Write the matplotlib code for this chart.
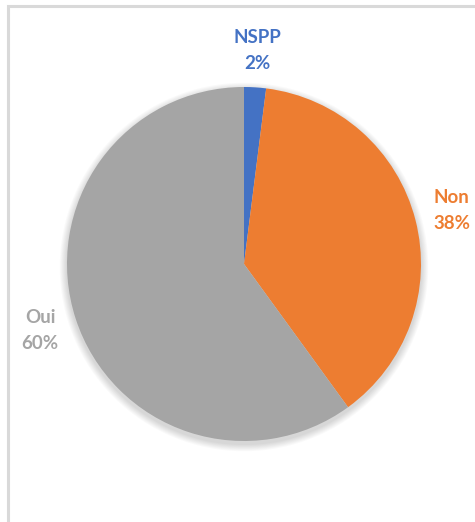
import matplotlib
matplotlib.use("Agg")
import matplotlib.pyplot as plt
from matplotlib.patches import Rectangle, Circle

categories = ["NSPP", "Non", "Oui"]
values = [2, 38, 60]
colors = ["#4472C4", "#ED7D31", "#A5A5A5"]

W, H = 475, 522
fig = plt.figure(figsize=(W / 100, H / 100), dpi=100)
ax = fig.add_axes([0, 0, 1, 1])

# chart border (light gray), right and bottom edges outside the image
ax.add_patch(Rectangle((8, -20), W + 20, H - 6 + 20, fill=False,
                       edgecolor="#D9D9D9", linewidth=2.2, zorder=0))

cx, cy, r = 244, H - 264, 177

# soft shadow
for k in range(8):
    ax.add_patch(Circle((cx, cy - 3), r + 1 + k * 0.9, color="black",
                        alpha=0.018, linewidth=0, zorder=1))

labels = [f"{c}\n{v}%" for c, v in zip(categories, values)]
wedges, texts = ax.pie(values, colors=colors, startangle=90, counterclock=False,
                       center=(cx, cy), radius=r, labels=labels,
                       labeldistance=1.21, frame=True,
                       wedgeprops=dict(linewidth=0, zorder=2),
                       textprops=dict(fontsize=13.5, fontweight="bold",
                                      family=["Lato", "DejaVu Sans"]))
for t, c in zip(texts, colors):
    t.set_color(c)
    t.set_ha("center")
    t.set_va("center")
    t.set_linespacing(1.65)

ax.set_xlim(0, W)
ax.set_ylim(0, H)
ax.set_aspect("equal")
ax.axis("off")
fig.savefig("out.png", dpi=100)
